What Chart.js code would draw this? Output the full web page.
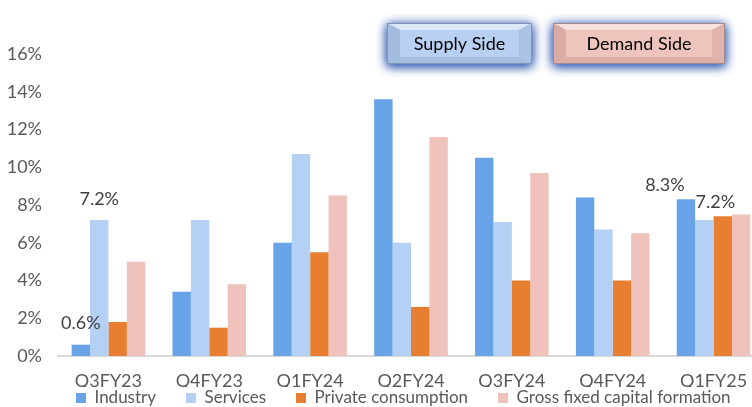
<!DOCTYPE html>
<html>
<head>
<meta charset="utf-8">
<script src="https://cdn.jsdelivr.net/npm/chart.js@4.4.0/dist/chart.umd.min.js"></script>
<style>
  html, body { margin: 0; padding: 0; background: #fff; overflow: hidden; }
  #wrap { width: 770px; height: 407px; position: relative; }
</style>
</head>
<body>
<div id="wrap"><canvas id="gdpChart"></canvas></div>
<script>
// categories and series (% growth, y-o-y)
const categories = ['Q3FY23', 'Q4FY23', 'Q1FY24', 'Q2FY24', 'Q3FY24', 'Q4FY24', 'Q1FY25'];
const industry = [0.6, 3.4, 6.0, 13.6, 10.5, 8.4, 8.3];
const services = [7.2, 7.2, 10.7, 6.0, 7.1, 6.7, 7.2];
const privateConsumption = [1.8, 1.5, 5.5, 2.6, 4.0, 4.0, 7.4];
const grossFixedCapital = [5.0, 3.8, 8.5, 11.6, 9.7, 6.5, 7.5];
const yTicks = [0, 2, 4, 6, 8, 10, 12, 14, 16];

// which bars carry a value label (dataset index, category index)
const labelledBars = [[0, 0], [1, 0], [0, 6], [1, 6]];
const labelOffsets = [[0, -21], [0, -21], [-21, -14], [11, -18]];

const FONT = 'Lato, "Open Sans", sans-serif';

// value labels on a few bars
const valueLabels = {
    id: 'valueLabels',
    afterDatasetsDraw(chart) {
        const ctx = chart.ctx;
        ctx.save();
        ctx.font = '18px ' + FONT;
        ctx.fillStyle = '#404040';
        ctx.textAlign = 'center';
        ctx.textBaseline = 'middle';
        labelledBars.forEach(function(p, k) {
            const bar = chart.getDatasetMeta(p[0]).data[p[1]];
            const v = chart.data.datasets[p[0]].data[p[1]];
            ctx.fillText(v.toFixed(1) + '%', bar.x + labelOffsets[k][0], bar.y + labelOffsets[k][1]);
        });
        ctx.restore();
    }
};

// the two bevelled buttons above the plot
function drawButton(ctx, x, y, w, h, text, c) {
    const b = 7, s = 13;
    ctx.save();
    ctx.shadowColor = 'rgba(55, 95, 180, 0.9)';
    ctx.shadowBlur = 10;
    ctx.shadowOffsetY = 2;
    ctx.fillStyle = c.face;
    ctx.fillRect(x, y, w, h);
    ctx.fillRect(x, y, w, h);
    ctx.restore();

    ctx.save();
    function poly(pts, col) {
        ctx.beginPath();
        ctx.moveTo(pts[0][0], pts[0][1]);
        for (let i = 1; i < pts.length; i++) ctx.lineTo(pts[i][0], pts[i][1]);
        ctx.closePath();
        ctx.fillStyle = col;
        ctx.fill();
    }
    poly([[x, y], [x + w, y], [x + w - s, y + b], [x + s, y + b]], c.top);
    poly([[x, y], [x + s, y + b], [x + s, y + h - b], [x, y + h]], c.left);
    poly([[x + w, y], [x + w, y + h], [x + w - s, y + h - b], [x + w - s, y + b]], c.right);
    poly([[x, y + h], [x + s, y + h - b], [x + w - s, y + h - b], [x + w, y + h]], c.bottom);
    ctx.strokeStyle = c.edge;
    ctx.lineWidth = 1;
    ctx.strokeRect(x + 0.5, y + 0.5, w - 1, h - 1);
    ctx.font = '18px ' + FONT;
    ctx.fillStyle = '#000';
    ctx.textAlign = 'center';
    ctx.textBaseline = 'middle';
    ctx.fillText(text, x + w / 2, y + h / 2 + 1);
    ctx.restore();
}

const sideButtons = {
    id: 'sideButtons',
    afterDraw(chart) {
        const ctx = chart.ctx;
        drawButton(ctx, 387, 23, 145, 41, 'Supply Side', {
            face: '#b8d1f2', top: '#dce8f8', left: '#a3bbdd', right: '#aac2e3', bottom: '#a4bde0', edge: '#8096b8'
        });
        drawButton(ctx, 553, 23, 172, 41, 'Demand Side', {
            face: '#efc4bd', top: '#f8e0dc', left: '#d9aba4', right: '#e0b3ac', bottom: '#dcaea7', edge: '#a08a96'
        });
    }
};

// put the legend where the reference has it
const legendPlace = {
    id: 'legendPlace',
    afterLayout(chart) {
        const lg = chart.legend;
        const pad = lg.options.labels.padding;
        const start = (lg.left + pad + lg.right - lg.lineWidths[0]) / 2;
        const shift = 76 - start;
        lg.left += shift;
        lg.right += shift;
        lg.top = 398 - pad - 8.5;
        lg.bottom = 407;
    }
};

const ctx = document.getElementById('gdpChart').getContext('2d');
const gdpChart = new Chart(ctx, {
    type: 'bar',
    data: {
        labels: categories,
        datasets: [{
            label: 'Industry',
            data: industry,
            backgroundColor: '#68a3e8'
        }, {
            label: 'Services',
            data: services,
            backgroundColor: '#b4d0f5'
        }, {
            label: 'Private consumption',
            data: privateConsumption,
            backgroundColor: '#e87f30'
        }, {
            label: 'Gross fixed capital formation',
            data: grossFixedCapital,
            backgroundColor: '#efc2bb'
        }]
    },
    options: {
        responsive: true,
        maintainAspectRatio: false,
        animation: false,
        layout: {
            padding: { top: 54, right: 6, left: 0, bottom: 0 }
        },
        datasets: {
            bar: {
                categoryPercentage: 0.73,
                barPercentage: 1.0
            }
        },
        plugins: {
            tooltip: { enabled: false },
            title: { display: false },
            legend: {
                position: 'bottom',
                maxHeight: 20,
                labels: {
                    boxWidth: 10,
                    boxHeight: 10,
                    padding: 30,
                    color: '#595959',
                    font: { family: FONT, size: 17 }
                }
            }
        },
        scales: {
            x: {
                grid: { display: false, drawTicks: false },
                border: { display: true, color: '#d9d9d9', width: 2 },
                ticks: {
                    padding: 14,
                    color: '#595959',
                    font: { family: FONT, size: 18 },
                    maxRotation: 0
                },
                afterFit: function(scale) { scale.height = 31; }
            },
            y: {
                min: 0,
                max: 16,
                grid: { display: false, drawTicks: false },
                border: { display: false },
                afterBuildTicks: function(scale) {
                    scale.ticks = yTicks.map(function(v) { return { value: v }; });
                },
                ticks: {
                    padding: 16,
                    color: '#595959',
                    font: { family: FONT, size: 18 },
                    callback: function(v) { return v + '%'; }
                },
                afterFit: function(scale) { scale.width = 58; }
            }
        }
    },
    plugins: [valueLabels, sideButtons, legendPlace]
});
</script>
</body>
</html>
